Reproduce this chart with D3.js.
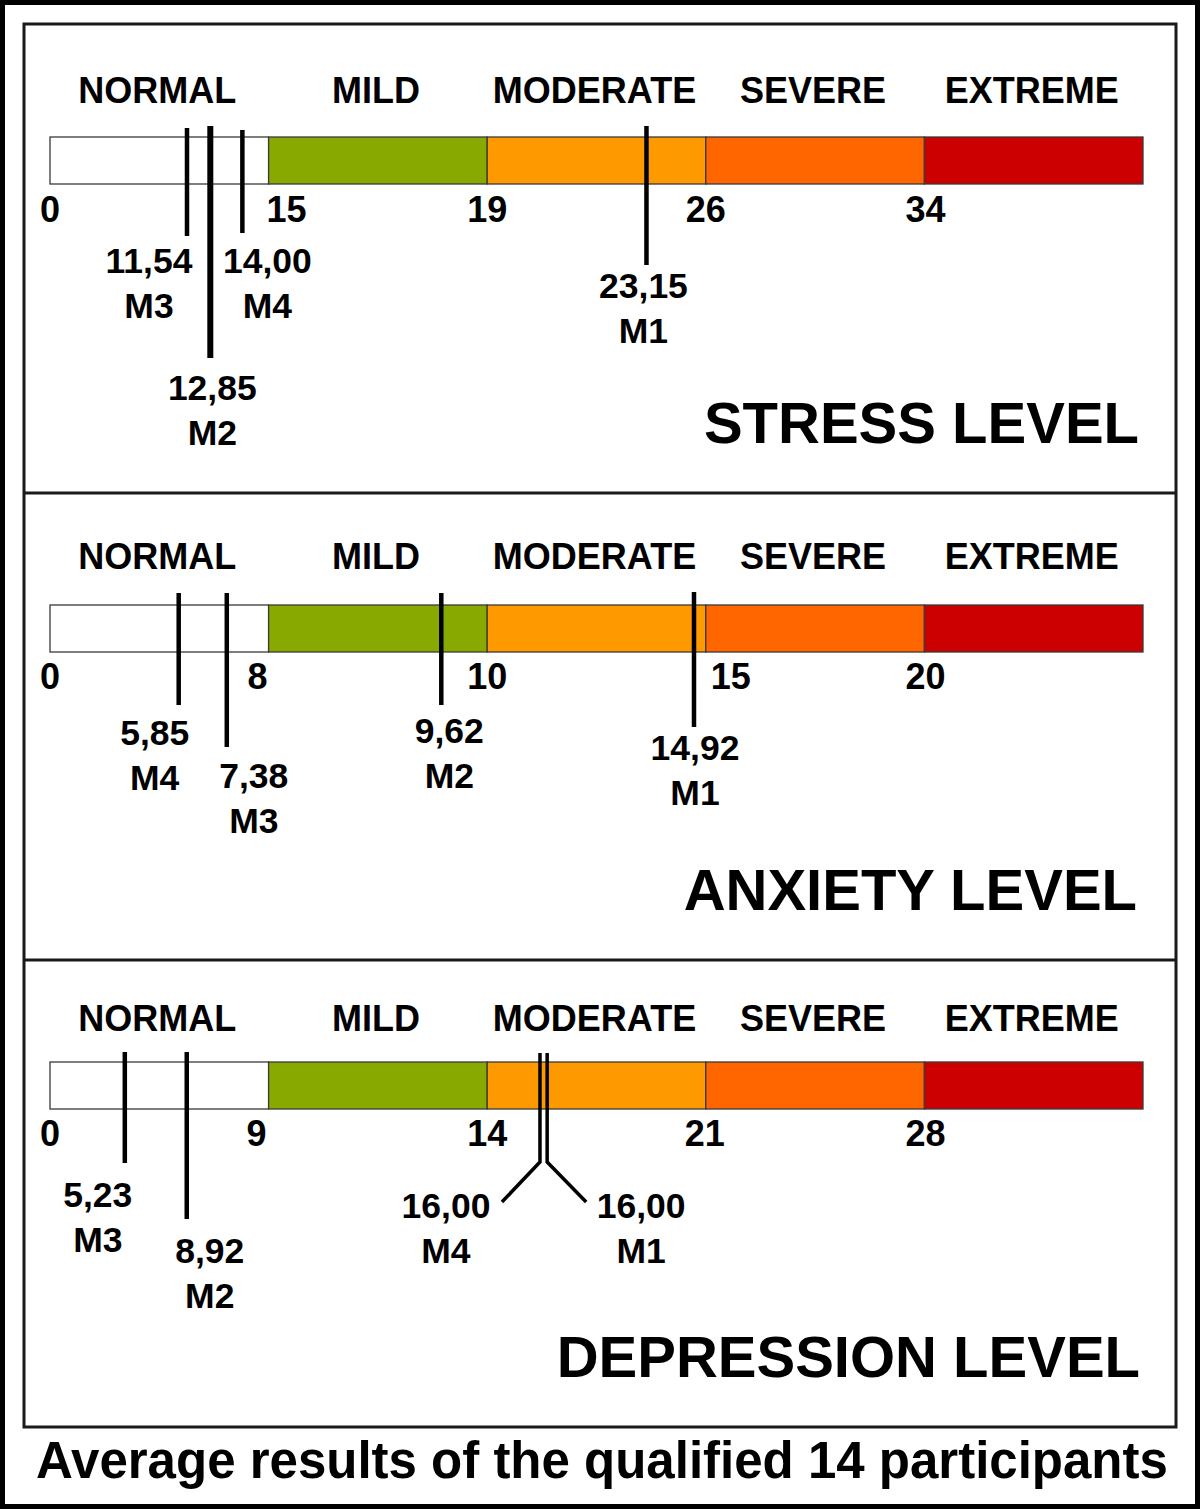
<!DOCTYPE html>
<html><head><meta charset="utf-8">
<script src="https://cdn.jsdelivr.net/npm/d3@7/dist/d3.min.js"></script>
<style>html,body{margin:0;padding:0;background:#fff}svg{display:block}text{font-family:"Liberation Sans",Arial,sans-serif;font-weight:bold;fill:#000}</style>
</head><body>
<svg id="chart" width="1200" height="1509"></svg>
<script>
// ---------- data ----------
const levels = ["NORMAL", "MILD", "MODERATE", "SEVERE", "EXTREME"];
const stressCutoffs = [0, 15, 19, 26, 34, 42];
const anxietyCutoffs = [0, 8, 10, 15, 20, 42];
const depressionCutoffs = [0, 9, 14, 21, 28, 42];
const groups = ["M1", "M2", "M3", "M4"];
const stressValues = [23.15, 12.85, 11.54, 14.00];
const anxietyValues = [14.92, 9.62, 7.38, 5.85];
const depressionValues = [16.00, 8.92, 5.23, 16.00];
// where each marker is drawn on the (segment) scale
const stressDrawnAt = [24.1, 11.0, 9.4, 13.2];
const anxietyDrawnAt = [14.73, 9.58, 6.47, 4.71];
const depressionDrawnAt = [15.92, 5.63, 3.08, 15.69];
const panelTitles = ["STRESS LEVEL", "ANXIETY LEVEL", "DEPRESSION LEVEL"];
const footnote = "Average results of the qualified 14 participants";

// ---------- style / layout ----------
const levelColors = ["#ffffff", "#88aa00", "#ff9900", "#ff6600", "#cc0000"];
const barX0 = 50, barX1 = 1143;
const panelLayout = [
  {top: 24, bottom: 493, catY: 103, barY: 137, tickY: 222, titleY: 443, titleX: 1139,
   tickDx: [0, 18, 0, 0, 1],
   marks: [
     {top: 126, bottom: 265, dx: -3, labelY: 298, w: 4.5},
     {top: 126, bottom: 358, dx: 2, labelY: 400, w: 6},
     {top: 128, bottom: 236, dx: -38, labelY: 273, w: 4.5},
     {top: 130, bottom: 233, dx: 25, labelY: 273, w: 4.5}]},
  {top: 493, bottom: 960, catY: 569, barY: 605, tickY: 689, titleY: 910, titleX: 1137,
   tickDx: [0, -11, 0, 25, 1],
   marks: [
     {top: 592, bottom: 727, dx: 1, labelY: 760, w: 4.5},
     {top: 593, bottom: 705, dx: 8, labelY: 743, w: 4.5},
     {top: 593, bottom: 747, dx: 27, labelY: 788, w: 4.5},
     {top: 593, bottom: 705, dx: -24, labelY: 745, w: 4.5}]},
  {top: 960, bottom: 1427, catY: 1031, barY: 1062, tickY: 1146, titleY: 1377, titleX: 1140,
   tickDx: [0, -12, 0, -1, 1],
   marks: [
     {top: 1053, bottom: 1162, dx: 94, labelY: 1218, w: 3.5, branch: 39},
     {top: 1052, bottom: 1219, dx: 23, labelY: 1263, w: 4.5},
     {top: 1052, bottom: 1163, dx: -27, labelY: 1207, w: 4.5},
     {top: 1053, bottom: 1162, dx: -94, labelY: 1218, w: 3.5, branch: -38}]}
];
const barH = 47;

const panels = [
  {title: panelTitles[0], cutoffs: stressCutoffs, values: stressValues, at: stressDrawnAt},
  {title: panelTitles[1], cutoffs: anxietyCutoffs, values: anxietyValues, at: anxietyDrawnAt},
  {title: panelTitles[2], cutoffs: depressionCutoffs, values: depressionValues, at: depressionDrawnAt}
];

const svg = d3.select("#chart");
svg.append("rect").attr("x", 0).attr("y", 0).attr("width", 1200).attr("height", 1509)
  .attr("fill", "#fff").attr("stroke", "#000").attr("stroke-width", 10);
svg.append("rect").attr("x", 24).attr("y", 24).attr("width", 1152).attr("height", 1403)
  .attr("fill", "none").attr("stroke", "#1a1a1a").attr("stroke-width", 3);

const fmt = v => v.toFixed(2).replace(".", ",");

panels.forEach((p, i) => {
  const L = panelLayout[i];
  const g = svg.append("g");
  if (i > 0) {
    g.append("line").attr("x1", 24).attr("x2", 1176).attr("y1", L.top).attr("y2", L.top)
      .attr("stroke", "#1a1a1a").attr("stroke-width", 3);
  }
  const stepRange = d3.range(p.cutoffs.length).map(k => barX0 + (barX1 - barX0) * k / (p.cutoffs.length - 1));
  const x = d3.scaleLinear().domain(p.cutoffs).range(stepRange);
  const segs = levels.map((name, k) => ({name, a: p.cutoffs[k], b: p.cutoffs[k + 1], color: levelColors[k]}));

  g.selectAll("text.cat").data(segs).join("text").attr("class", "cat")
    .attr("x", d => (x(d.a) + x(d.b)) / 2 - 2).attr("y", L.catY)
    .attr("text-anchor", "middle").attr("font-size", 36).text(d => d.name);

  g.selectAll("rect.seg").data(segs).join("rect").attr("class", "seg")
    .attr("x", d => x(d.a)).attr("y", L.barY)
    .attr("width", d => x(d.b) - x(d.a)).attr("height", barH)
    .attr("fill", d => d.color).attr("stroke", "#3a3a3a").attr("stroke-width", 1.3);

  const ticks = p.cutoffs.slice(0, -1);
  g.selectAll("text.tick").data(ticks).join("text").attr("class", "tick")
    .attr("x", (d, k) => x(d) + L.tickDx[k]).attr("y", L.tickY)
    .attr("text-anchor", "middle").attr("font-size", 36).text(d => d);

  const marks = groups.map((gname, k) => ({group: gname, value: p.values[k], at: p.at[k], lay: L.marks[k]}));
  g.selectAll("path.mark").data(marks).join("path").attr("class", "mark")
    .attr("d", d => {
      const xx = x(d.at);
      let s = `M${xx},${d.lay.top}L${xx},${d.lay.bottom}`;
      if (d.lay.branch) s += `L${xx + d.lay.branch},${d.lay.bottom + 40}`;
      return s;
    })
    .attr("fill", "none").attr("stroke", "#000").attr("stroke-width", d => d.lay.w)
    .attr("stroke-linejoin", "miter");

  const lab = g.selectAll("g.lab").data(marks).join("g").attr("class", "lab");
  lab.append("text").attr("x", d => x(d.at) + d.lay.dx).attr("y", d => d.lay.labelY)
    .attr("text-anchor", "middle").attr("font-size", 35.5).text(d => fmt(d.value));
  lab.append("text").attr("x", d => x(d.at) + d.lay.dx).attr("y", d => d.lay.labelY + 45)
    .attr("text-anchor", "middle").attr("font-size", 35.5).text(d => d.group);

  g.append("text").attr("x", L.titleX).attr("y", L.titleY).attr("text-anchor", "end")
    .attr("font-size", 58).text(p.title);
});

svg.append("text").attr("x", 602).attr("y", 1478).attr("text-anchor", "middle")
  .attr("font-size", 51).text(footnote);
</script>
</body></html>
